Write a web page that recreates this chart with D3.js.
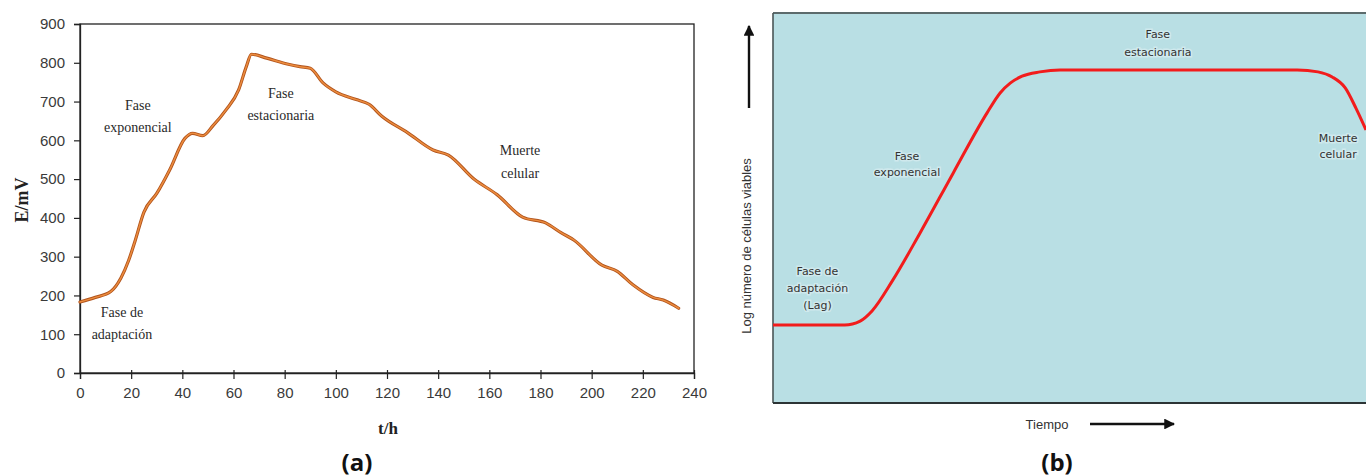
<!DOCTYPE html>
<html>
<head>
<meta charset="utf-8">
<script src="https://cdn.jsdelivr.net/npm/d3@7"></script>
<style>
  html, body { margin: 0; padding: 0; background: #ffffff; }
  svg { display: block; }
</style>
</head>
<body>
<svg id="chart" width="1366" height="476"></svg>
<script>
// ---------- Panel (a) data ----------
const timeA = [0, 6, 12, 16, 19, 21.5, 25, 30, 35, 41, 44, 48, 52, 57, 62, 65, 67, 73, 81, 86, 90, 95, 100, 108, 113, 118, 128, 138, 144, 154, 163, 173, 182, 188, 193, 204, 210, 216, 224, 228, 234];
const potentialA = [183, 195, 210, 245, 290, 340, 415, 463, 523, 605, 618, 612, 638, 678, 730, 790, 822, 812, 797, 790, 786, 748, 725, 705, 693, 662, 620, 575, 562, 500, 460, 402, 387, 362, 343, 278, 262, 228, 195, 188, 167];
const xTicksA = [0, 20, 40, 60, 80, 100, 120, 140, 160, 180, 200, 220, 240];
const yTicksA = [0, 100, 200, 300, 400, 500, 600, 700, 800, 900];
const labelsA = [
  { t: 22.6, e: [691, 632], lines: ["Fase", "exponencial"] },
  { t: 78.5, e: [721, 663], lines: ["Fase", "estacionaria"] },
  { t: 172, e: [575, 515], lines: ["Muerte", "celular"] },
  { t: 16.4, e: [157, 98], lines: ["Fase de", "adaptación"] }
];

// ---------- Panel (b) data (schematic) ----------
const timeB = [0, 12.1, 14.7, 16.7, 20.2, 24.8, 30.4, 36.1, 38.3, 40, 42, 45, 48.4, 88.4, 91.9, 94.3, 96.5, 98.3, 100];
const logB = [2.0, 2.0, 2.1, 2.36, 3.15, 4.36, 5.9, 7.44, 7.95, 8.2, 8.38, 8.49, 8.54, 8.54, 8.49, 8.36, 8.08, 7.56, 7.0];
const labelsB = [
  { t: 7.5, v: [3.37, 2.94, 2.5], lines: ["Fase de", "adaptación", "(Lag)"] },
  { t: 22.6, v: [6.33, 5.9], lines: ["Fase", "exponencial"] },
  { t: 64.9, v: [9.44, 8.98], lines: ["Fase", "estacionaria"] },
  { t: 95.3, v: [6.79, 6.36], lines: ["Muerte", "celular"] }
];

const svg = d3.select("#chart");

// ================= Panel (a) =================
const xA = d3.scaleLinear().domain([0, 240]).range([80, 694]);
const yA = d3.scaleLinear().domain([0, 900]).range([373, 24]);

const gA = svg.append("g");

gA.append("rect")
  .attr("x", xA(0)).attr("y", yA(900))
  .attr("width", xA(240) - xA(0)).attr("height", yA(0) - yA(900))
  .attr("fill", "none").attr("stroke", "#222").attr("stroke-width", 1.3);

const axisYA = d3.axisLeft(yA).tickValues(yTicksA).tickSize(6).tickPadding(9);
const axisXA = d3.axisBottom(xA).tickValues(xTicksA).tickSize(6).tickPadding(8);

const gyA = gA.append("g").attr("transform", `translate(${xA(0)},0)`).call(axisYA);
const gxA = gA.append("g").attr("transform", `translate(0,${yA(0)})`).call(axisXA);
[gyA, gxA].forEach(g => {
  g.select(".domain").attr("stroke", "#222").attr("stroke-width", 1.3);
  g.selectAll(".tick line").attr("stroke", "#222").attr("stroke-width", 1.2);
  g.selectAll(".tick text")
    .attr("font-family", "'Liberation Sans', Arial, sans-serif")
    .attr("font-size", 15).attr("fill", "#3a3a3a");
});
gxA.selectAll(".tick line").attr("y1", -3);

gA.append("text")
  .attr("transform", "translate(22,200) rotate(-90)")
  .attr("text-anchor", "middle").attr("dominant-baseline", "central")
  .attr("font-family", "'Liberation Serif', 'Times New Roman', serif")
  .attr("font-weight", "bold").attr("font-size", 18).attr("fill", "#222")
  .text("E/mV");
gA.append("text")
  .attr("x", 388).attr("y", 428)
  .attr("text-anchor", "middle").attr("dominant-baseline", "central")
  .attr("font-family", "'Liberation Serif', 'Times New Roman', serif")
  .attr("font-weight", "bold").attr("font-size", 17).attr("fill", "#222")
  .text("t/h");

const lineA = d3.line()
  .x((d, i) => xA(timeA[i]))
  .y(d => yA(d))
  .curve(d3.curveMonotoneX);
gA.append("path").datum(potentialA)
  .attr("d", lineA).attr("fill", "none")
  .attr("stroke", "#b0531c").attr("stroke-width", 3.2)
  .attr("stroke-linejoin", "round").attr("stroke-linecap", "round");
gA.append("path").datum(potentialA)
  .attr("d", lineA).attr("fill", "none")
  .attr("stroke", "#ec8c3e").attr("stroke-width", 1.5)
  .attr("stroke-linejoin", "round").attr("stroke-linecap", "round");

labelsA.forEach(l => {
  l.lines.forEach((s, i) => {
    gA.append("text")
      .attr("x", xA(l.t)).attr("y", yA(l.e[i]))
      .attr("text-anchor", "middle").attr("dominant-baseline", "central")
      .attr("font-family", "'Liberation Serif', 'Times New Roman', serif")
      .attr("font-size", 14).attr("fill", "#2a2a2a")
      .text(s);
  });
});

svg.append("text")
  .attr("x", 357).attr("y", 461)
  .attr("text-anchor", "middle").attr("dominant-baseline", "central")
  .attr("font-family", "'Open Sans', 'Liberation Sans', sans-serif")
  .attr("font-weight", "bold").attr("font-size", 24).attr("fill", "#111")
  .text("(a)");

// ================= Panel (b) =================
const xB = d3.scaleLinear().domain([0, 100]).range([773, 1366]);
const yB = d3.scaleLinear().domain([0, 10]).range([403, 13]);

const gB = svg.append("g");

gB.append("rect")
  .attr("x", xB(0)).attr("y", yB(10))
  .attr("width", xB(100) - xB(0) + 5).attr("height", yB(0) - yB(10))
  .attr("fill", "#b9dfe4");
gB.append("line").attr("x1", xB(0)).attr("x2", 1366).attr("y1", yB(10)).attr("y2", yB(10))
  .attr("stroke", "#5c6b6c").attr("stroke-width", 2.2);
gB.append("line").attr("x1", xB(0)).attr("x2", xB(0)).attr("y1", yB(10)).attr("y2", yB(0))
  .attr("stroke", "#4a5556").attr("stroke-width", 1.6);
gB.append("line").attr("x1", xB(0)).attr("x2", 1366).attr("y1", yB(0)).attr("y2", yB(0))
  .attr("stroke", "#2c3435").attr("stroke-width", 1.8);

const defs = svg.append("defs");
defs.append("marker")
  .attr("id", "arrowhead")
  .attr("viewBox", "0 0 10 10")
  .attr("refX", 9).attr("refY", 5)
  .attr("markerWidth", 4.5).attr("markerHeight", 4.5)
  .attr("orient", "auto")
  .append("path").attr("d", "M0,0 L10,5 L0,10 z").attr("fill", "#111");

gB.append("line")
  .attr("x1", 749).attr("x2", 749).attr("y1", 108).attr("y2", 26)
  .attr("stroke", "#111").attr("stroke-width", 2.4)
  .attr("marker-end", "url(#arrowhead)");
gB.append("line")
  .attr("x1", 1090).attr("x2", 1174).attr("y1", 424).attr("y2", 424)
  .attr("stroke", "#111").attr("stroke-width", 2.4)
  .attr("marker-end", "url(#arrowhead)");

gB.append("text")
  .attr("transform", "translate(746,246) rotate(-90)")
  .attr("text-anchor", "middle").attr("dominant-baseline", "central")
  .attr("font-family", "'Liberation Sans', Arial, sans-serif")
  .attr("font-size", 13).attr("fill", "#333")
  .text("Log número de células viables");
gB.append("text")
  .attr("x", 1047).attr("y", 424)
  .attr("text-anchor", "middle").attr("dominant-baseline", "central")
  .attr("font-family", "'Liberation Sans', Arial, sans-serif")
  .attr("font-size", 13).attr("fill", "#333")
  .text("Tiempo");

const lineB = d3.line()
  .x((d, i) => xB(timeB[i]))
  .y(d => yB(d))
  .curve(d3.curveMonotoneX);
gB.append("path").datum(logB)
  .attr("d", lineB).attr("fill", "none")
  .attr("stroke", "#f21c1c").attr("stroke-width", 3)
  .attr("stroke-linejoin", "round");

labelsB.forEach(l => {
  l.lines.forEach((s, i) => {
    gB.append("text")
      .attr("x", xB(l.t)).attr("y", yB(l.v[i]))
      .attr("text-anchor", "middle").attr("dominant-baseline", "central")
      .attr("font-family", "'DejaVu Sans', sans-serif")
      .attr("font-size", 11).attr("fill", "#333")
      .attr("stroke", "#cfe9ed").attr("stroke-width", 3).attr("paint-order", "stroke")
      .text(s);
  });
});

svg.append("text")
  .attr("x", 1057).attr("y", 461)
  .attr("text-anchor", "middle").attr("dominant-baseline", "central")
  .attr("font-family", "'Open Sans', 'Liberation Sans', sans-serif")
  .attr("font-weight", "bold").attr("font-size", 24).attr("fill", "#111")
  .text("(b)");
</script>
</body>
</html>
